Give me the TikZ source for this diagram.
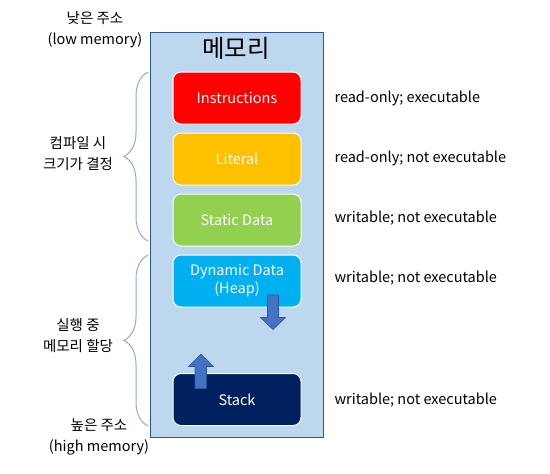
\documentclass[tikz,border=0pt]{standalone}
\usepackage{fontspec}
\setmainfont{Noto Sans CJK KR}
\definecolor{memfill}{RGB}{189, 215, 238}
\definecolor{memline}{RGB}{47, 85, 151}
\definecolor{bracecol}{RGB}{143, 170, 220}
\definecolor{arrowfill}{RGB}{68, 114, 196}
\definecolor{instrred}{RGB}{255, 0, 0}
\definecolor{literalorange}{RGB}{255, 192, 0}
\definecolor{staticgreen}{RGB}{146, 208, 80}
\definecolor{heapblue}{RGB}{0, 176, 240}
\definecolor{stacknavy}{RGB}{0, 32, 96}
\usetikzlibrary{positioning,decorations.pathreplacing}

\begin{document}
\begin{tikzpicture}[x=1pt, y=-1pt, node distance=8pt,
    every node/.style={font=\fontsize{14.5}{18}\selectfont},
    segment/.style={rectangle, rounded corners=8pt, draw=white, line width=1pt, minimum width=128pt, minimum height=52pt, text=white, align=center},
    note/.style={anchor=west, text=black},
    side/.style={align=center, text=black, font=\fontsize{14.5}{21}\selectfont},
    membrace/.style={decorate, decoration={brace, amplitude=24pt}, draw=bracecol, line width=1pt},
    growarrow/.style={fill=arrowfill, draw=memline, line width=0.6pt}]
    \useasboundingbox (0,0) rectangle (550,474);

    % memory block
    \node[draw=memline, fill=memfill, line width=1pt, minimum width=173pt, minimum height=405pt, inner sep=0pt] (mem) at (236.5,234.5) {};
    \node[font=\fontsize{24.5}{28}\selectfont] (title) at (236,48) {메모리};

    \node[segment, fill=instrred] (instr) at (237,98) {Instructions};
    \node[segment, fill=literalorange, below=of instr] (lit) {Literal};
    \node[segment, fill=staticgreen, below=of lit] (static) {Static Data};
    \node[segment, fill=heapblue, below=of static] (heap) {Dynamic Data\\(Heap)};
    \node[segment, fill=stacknavy] (stack) at (237,399.5) {Stack};

    % growth arrows
    \draw[growarrow] (267.5,295) -- (278.5,295) -- (278.5,317.5) -- (285.5,317.5) -- (273,329.5) -- (260.5,317.5) -- (267.5,317.5) -- cycle;
    \draw[growarrow] (195,388.5) -- (206.5,388.5) -- (206.5,366.5) -- (213.5,366.5) -- (201,354) -- (188.5,366.5) -- (195,366.5) -- cycle;

    \node[note] (n1) at (331,98) {read-only; executable};
    \node[note] (n2) at (331,158) {read-only; not executable};
    \node[note] (n3) at (331,218) {writable; not executable};
    \node[note] (n4) at (331,278) {writable; not executable};
    \node[note] (n5) at (331,400) {writable; not executable};

    % braces
    \coordinate (b1top) at (148,72);
    \coordinate (b1bot) at (148,241);
    \coordinate (b2top) at (148,255);
    \coordinate (b2bot) at (148,426);
    \draw[membrace] (b1bot) -- (b1top);
    \draw[membrace] (b2bot) -- (b2top);

    \node[side] (low) at (95,30) {낮은 주소\\(low memory)};
    \node[side] (compile) at (78,154) {컴파일 시\\크기가 결정};
    \node[side] (runtime) at (78,335.5) {실행 중\\메모리 할당};
    \node[side] (high) at (99,437) {높은 주소\\(high memory)};
\end{tikzpicture}
\end{document}
